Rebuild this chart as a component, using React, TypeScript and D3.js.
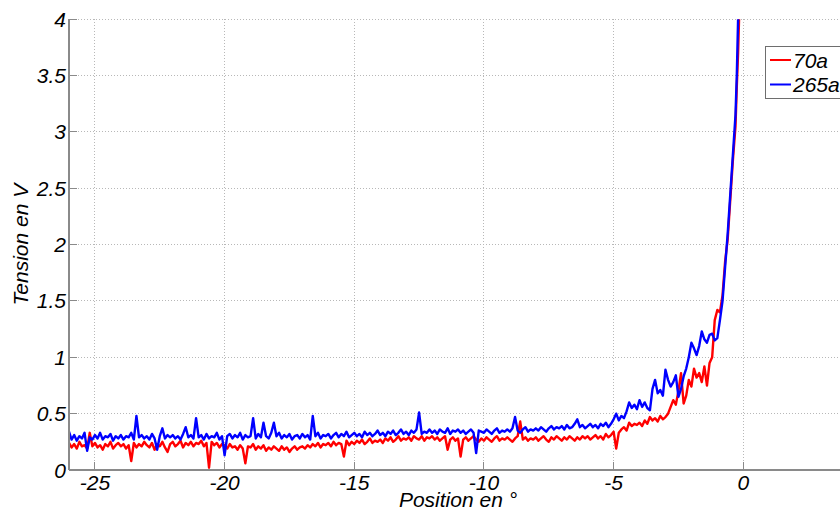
import React from 'react';
import * as d3 from 'd3';

// Sampling positions (degrees)
const POSITIONS = [
  -26, -25.9, -25.8, -25.7, -25.6, -25.5, -25.4, -25.3, -25.2, -25.1,
  -25, -24.9, -24.8, -24.7, -24.6, -24.5, -24.4, -24.3, -24.2, -24.1,
  -24, -23.9, -23.8, -23.7, -23.6, -23.5, -23.4, -23.3, -23.2, -23.1,
  -23, -22.9, -22.8, -22.7, -22.6, -22.5, -22.4, -22.3, -22.2, -22.1,
  -22, -21.9, -21.8, -21.7, -21.6, -21.5, -21.4, -21.3, -21.2, -21.1,
  -21, -20.9, -20.8, -20.7, -20.6, -20.5, -20.4, -20.3, -20.2, -20.1,
  -20, -19.9, -19.8, -19.7, -19.6, -19.5, -19.4, -19.3, -19.2, -19.1,
  -19, -18.9, -18.8, -18.7, -18.6, -18.5, -18.4, -18.3, -18.2, -18.1,
  -18, -17.9, -17.8, -17.7, -17.6, -17.5, -17.4, -17.3, -17.2, -17.1,
  -17, -16.9, -16.8, -16.7, -16.6, -16.5, -16.4, -16.3, -16.2, -16.1,
  -16, -15.9, -15.8, -15.7, -15.6, -15.5, -15.4, -15.3, -15.2, -15.1,
  -15, -14.9, -14.8, -14.7, -14.6, -14.5, -14.4, -14.3, -14.2, -14.1,
  -14, -13.9, -13.8, -13.7, -13.6, -13.5, -13.4, -13.3, -13.2, -13.1,
  -13, -12.9, -12.8, -12.7, -12.6, -12.5, -12.4, -12.3, -12.2, -12.1,
  -12, -11.9, -11.8, -11.7, -11.6, -11.5, -11.4, -11.3, -11.2, -11.1,
  -11, -10.9, -10.8, -10.7, -10.6, -10.5, -10.4, -10.3, -10.2, -10.1,
  -10, -9.9, -9.8, -9.7, -9.6, -9.5, -9.4, -9.3, -9.2, -9.1,
  -9, -8.9, -8.8, -8.7, -8.6, -8.5, -8.4, -8.3, -8.2, -8.1,
  -8, -7.9, -7.8, -7.7, -7.6, -7.5, -7.4, -7.3, -7.2, -7.1,
  -7, -6.9, -6.8, -6.7, -6.6, -6.5, -6.4, -6.3, -6.2, -6.1,
  -6, -5.9, -5.8, -5.7, -5.6, -5.5, -5.4, -5.3, -5.2, -5.1,
  -5, -4.9, -4.8, -4.7, -4.6, -4.5, -4.4, -4.3, -4.2, -4.1,
  -4, -3.9, -3.8, -3.7, -3.6, -3.5, -3.4, -3.3, -3.2, -3.1,
  -3, -2.9, -2.8, -2.7, -2.6, -2.5, -2.4, -2.3, -2.2, -2.1,
  -2, -1.9, -1.8, -1.7, -1.6, -1.5, -1.4, -1.3, -1.2, -1.1,
  -1, -0.9, -0.8, -0.7, -0.6, -0.5, -0.4, -0.3, -0.25, -0.2, -0.15,
];

// Series "70a" (red), volts
const TENSION_70A = [
  0.24, 0.20, 0.23, 0.19, 0.25, 0.21, 0.22, 0.19, 0.33, 0.21,
  0.24, 0.20, 0.22, 0.18, 0.23, 0.21, 0.25, 0.19, 0.22, 0.24,
  0.21, 0.23, 0.19, 0.22, 0.08, 0.24, 0.20, 0.23, 0.21, 0.25,
  0.22, 0.20, 0.24, 0.18, 0.23, 0.21, 0.25, 0.20, 0.16, 0.23,
  0.25, 0.21, 0.23, 0.26, 0.20, 0.24, 0.22, 0.25, 0.21, 0.24,
  0.23, 0.26, 0.21, 0.24, 0.02, 0.25, 0.22, 0.24, 0.20, 0.23,
  0.22, 0.19, 0.23, 0.20, 0.21, 0.18, 0.22, 0.19, 0.06, 0.21,
  0.20, 0.23, 0.18, 0.21, 0.19, 0.22, 0.17, 0.20, 0.18, 0.21,
  0.19, 0.17, 0.21, 0.18, 0.20, 0.16, 0.19, 0.21, 0.18, 0.20,
  0.21, 0.19, 0.22, 0.20, 0.23, 0.21, 0.24, 0.20, 0.23, 0.22,
  0.24, 0.21, 0.25, 0.22, 0.24, 0.23, 0.12, 0.26, 0.22, 0.25,
  0.23, 0.26, 0.24, 0.27, 0.23, 0.25, 0.28, 0.24, 0.26, 0.25,
  0.27, 0.24, 0.28, 0.26, 0.29, 0.25, 0.27, 0.30, 0.26, 0.28,
  0.27, 0.29, 0.26, 0.30, 0.28, 0.27, 0.30, 0.26, 0.29, 0.28,
  0.30, 0.27, 0.29, 0.26, 0.28, 0.30, 0.18, 0.27, 0.29, 0.26,
  0.28, 0.12, 0.27, 0.29, 0.26, 0.28, 0.30, 0.27, 0.25, 0.28,
  0.26, 0.29, 0.27, 0.25, 0.28, 0.30, 0.26, 0.28, 0.27, 0.29,
  0.27, 0.25, 0.28, 0.30, 0.43, 0.27, 0.29, 0.26, 0.28, 0.27,
  0.29, 0.26, 0.28, 0.30, 0.27, 0.25, 0.29, 0.27, 0.30, 0.28,
  0.26, 0.29, 0.27, 0.30, 0.28, 0.26, 0.29, 0.27, 0.30, 0.28,
  0.30, 0.27, 0.29, 0.31, 0.28, 0.30, 0.27, 0.32, 0.29, 0.31,
  0.34, 0.19, 0.33, 0.36, 0.38, 0.35, 0.42, 0.39, 0.41, 0.40,
  0.42, 0.39, 0.44, 0.41, 0.47, 0.44, 0.46, 0.43, 0.48, 0.45,
  0.47, 0.50, 0.56, 0.62, 0.58, 0.70, 0.86, 0.59, 0.66, 0.80,
  0.74, 0.90, 0.82, 0.86, 0.78, 0.92, 0.75, 0.95, 1.00, 1.33,
  1.42, 1.40, 1.55, 1.85, 2.05, 2.40, 2.75, 3.05, 3.40, 3.70, 4.10,
];

// Series "265a" (blue), volts
const TENSION_265A = [
  0.34, 0.27, 0.31, 0.26, 0.30, 0.28, 0.33, 0.17, 0.29, 0.27,
  0.31, 0.28, 0.33, 0.27, 0.30, 0.29, 0.32, 0.26, 0.30, 0.28,
  0.31, 0.27, 0.30, 0.29, 0.33, 0.27, 0.48, 0.29, 0.31, 0.28,
  0.30, 0.27, 0.32, 0.28, 0.18, 0.30, 0.37, 0.28, 0.31, 0.29,
  0.31, 0.28, 0.30, 0.27, 0.32, 0.38, 0.29, 0.31, 0.28, 0.46,
  0.29, 0.31, 0.27, 0.32, 0.28, 0.30, 0.29, 0.33, 0.27, 0.30,
  0.13, 0.30, 0.32, 0.28, 0.31, 0.29, 0.33, 0.27, 0.31, 0.29,
  0.30, 0.46, 0.28, 0.32, 0.29, 0.42, 0.30, 0.28, 0.33, 0.42,
  0.30, 0.33, 0.28, 0.31, 0.29, 0.32, 0.27, 0.30, 0.31, 0.28,
  0.32, 0.29, 0.31, 0.27, 0.48, 0.30, 0.33, 0.28, 0.31, 0.30,
  0.32, 0.28, 0.31, 0.33, 0.29, 0.32, 0.30, 0.34, 0.29, 0.31,
  0.33, 0.30, 0.32, 0.29, 0.34, 0.31, 0.33, 0.30, 0.32, 0.35,
  0.31, 0.33, 0.30, 0.34, 0.32, 0.35, 0.31, 0.33, 0.36, 0.32,
  0.34, 0.31, 0.35, 0.33, 0.36, 0.51, 0.32, 0.34, 0.33, 0.36,
  0.33, 0.35, 0.32, 0.36, 0.34, 0.33, 0.37, 0.32, 0.35, 0.34,
  0.36, 0.33, 0.35, 0.32, 0.34, 0.36, 0.33, 0.15, 0.35, 0.34,
  0.33, 0.36, 0.34, 0.32, 0.35, 0.37, 0.33, 0.35, 0.34, 0.36,
  0.34, 0.37, 0.47, 0.35, 0.33, 0.36, 0.38, 0.34, 0.36, 0.35,
  0.37, 0.35, 0.38, 0.36, 0.34, 0.37, 0.39, 0.36, 0.38, 0.37,
  0.39, 0.36, 0.40, 0.37, 0.38, 0.41, 0.45, 0.38, 0.40, 0.37,
  0.39, 0.41, 0.38, 0.40, 0.37, 0.41, 0.39, 0.42, 0.38, 0.41,
  0.45, 0.50, 0.44, 0.48, 0.46, 0.52, 0.60, 0.55, 0.58, 0.54,
  0.62, 0.56, 0.60, 0.55, 0.53, 0.72, 0.80, 0.68, 0.71, 0.66,
  0.89, 0.80, 0.74, 0.78, 0.84, 0.65, 0.72, 0.83, 0.90, 1.00,
  1.13, 1.08, 1.02, 1.10, 1.23, 1.16, 1.13, 1.20, 1.21, 1.15,
  1.17, 1.33, 1.50, 1.80, 2.10, 2.45, 2.80, 3.15, 3.50, 4.00, 4.30,
];

const X_TICKS = [-25, -20, -15, -10, -5, 0];
const Y_TICKS = [0, 0.5, 1, 1.5, 2, 2.5, 3, 3.5, 4];
const SERIES_NAMES = ['70a', '265a'];
const SERIES_COLORS = ['#ff0000', '#0000ff'];
const X_LABEL = 'Position en °';
const Y_LABEL = 'Tension en V';

const W = 840;
const H = 512;
const FONT = '"Liberation Sans", Arial, sans-serif';

export default function App() {
  const x = d3.scaleLinear().domain([-26, 4]).range([69, 847]);
  const y = d3.scaleLinear().domain([0, 4]).range([470, 19.3]);
  const left = x(-26);
  const right = x(4);
  const top = y(4);
  const bottom = y(0);

  const line = d3
    .line<number>()
    .x((_, i) => x(POSITIONS[i]))
    .y((d) => y(d));

  const series = [TENSION_70A, TENSION_265A];

  return (
    <svg
      width={W}
      height={H}
      style={{ position: 'absolute', left: 0, top: 0, background: '#fff' }}
      fontFamily={FONT}
    >
      <defs>
        <clipPath id="plotClip">
          <rect x={left} y={top} width={right - left} height={bottom - top} />
        </clipPath>
      </defs>
      <rect x={0} y={0} width={W} height={H} fill="#fff" />

      {/* grid */}
      <g stroke="#b8b8b8" strokeWidth={1} strokeDasharray="1,2" shapeRendering="crispEdges">
        {X_TICKS.map((t) => (
          <line key={'gx' + t} x1={x(t)} x2={x(t)} y1={top} y2={bottom} />
        ))}
        {Y_TICKS.filter((t) => t > 0).map((t) => (
          <line key={'gy' + t} x1={left} x2={right} y1={y(t)} y2={y(t)} />
        ))}
      </g>

      {/* series */}
      <g clipPath="url(#plotClip)" fill="none" strokeWidth={2.4} strokeLinejoin="round">
        {series.map((s, k) => (
          <path key={SERIES_NAMES[k]} d={line(s) || ''} stroke={SERIES_COLORS[k]} />
        ))}
      </g>

      {/* axes */}
      <g stroke="#8a8a8a" shapeRendering="crispEdges">
        <line x1={left} x2={left} y1={top} y2={bottom} strokeWidth={2} />
        <line x1={left} x2={right} y1={bottom} y2={bottom} strokeWidth={1.5} />
        {X_TICKS.map((t) => (
          <line key={'tx' + t} x1={x(t)} x2={x(t)} y1={bottom} y2={bottom - 8} strokeWidth={1} />
        ))}
        {Y_TICKS.map((t) => (
          <line key={'ty' + t} x1={left} x2={left + 8} y1={y(t)} y2={y(t)} strokeWidth={1} />
        ))}
      </g>

      {/* tick labels */}
      <g fontSize={21} fontStyle="italic" fill="#000">
        {X_TICKS.map((t) => (
          <text key={'lx' + t} x={x(t)} y={490} textAnchor="middle">
            {String(t)}
          </text>
        ))}
        {Y_TICKS.map((t) => (
          <text key={'ly' + t} x={66} y={y(t)} textAnchor="end" dominantBaseline="central">
            {String(t)}
          </text>
        ))}
      </g>

      {/* axis labels */}
      <text x={(left + right) / 2} y={507} textAnchor="middle" fontSize={21} fontStyle="italic">
        {X_LABEL}
      </text>
      <text
        transform={`translate(28,${(top + bottom) / 2}) rotate(-90)`}
        textAnchor="middle"
        fontSize={21}
        fontStyle="italic"
      >
        {Y_LABEL}
      </text>

      {/* legend */}
      <g>
        <rect x={765} y={46.5} width={90} height={51.5} fill="#fff" stroke="#6e6e6e" strokeWidth={1} shapeRendering="crispEdges" />
        {SERIES_NAMES.map((name, k) => (
          <g key={'leg' + name}>
            <line x1={770} x2={791} y1={60 + k * 24.5} y2={60 + k * 24.5} stroke={SERIES_COLORS[k]} strokeWidth={2} />
            <text x={793} y={67.5 + k * 24.5} fontSize={21} fontStyle="italic">
              {name}
            </text>
          </g>
        ))}
      </g>
    </svg>
  );
}
